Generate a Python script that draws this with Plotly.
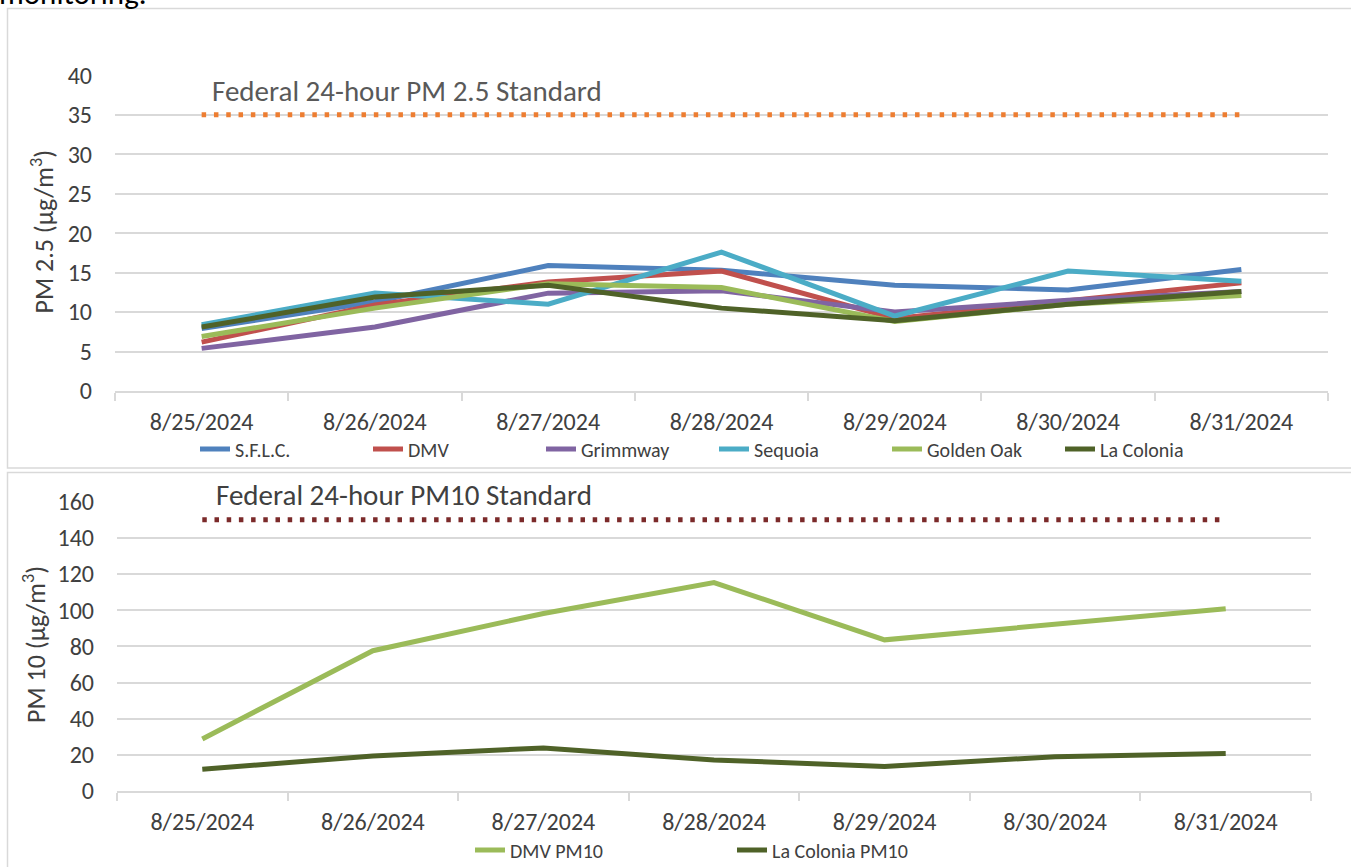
import plotly.graph_objects as go

W, H = 1351, 867

dates = ["8/25/2024", "8/26/2024", "8/27/2024", "8/28/2024", "8/29/2024", "8/30/2024", "8/31/2024"]

sflc = [7.9, 11.3, 15.9, 15.3, 13.4, 12.8, 15.4]
dmv = [6.2, 10.9, 13.8, 15.2, 9.2, 11.4, 13.7]
grimmway = [5.4, 8.1, 12.4, 12.7, 10.0, 11.5, 12.6]
sequoia = [8.4, 12.4, 11.0, 17.6, 9.5, 15.2, 13.9]
golden_oak = [6.9, 10.5, 13.6, 13.1, 8.8, 11.0, 12.1]
la_colonia = [8.1, 11.9, 13.4, 10.5, 8.9, 11.0, 12.6]
pm25_standard = [35, 35, 35, 35, 35, 35, 35]

dmv_pm10 = [28.8, 77.6, 98.2, 115.3, 83.6, 92.0, 100.8]
la_colonia_pm10 = [12.0, 19.4, 23.8, 17.2, 13.6, 19.0, 20.8]
pm10_standard = [150, 150, 150, 150, 150, 150, 150]

pm25_series = [
    ("S.F.L.C.", sflc, "#4F81BD"),
    ("DMV", dmv, "#C0504D"),
    ("Grimmway", grimmway, "#8064A2"),
    ("Sequoia", sequoia, "#4BACC6"),
    ("Golden Oak", golden_oak, "#9BBB59"),
    ("La Colonia", la_colonia, "#4F6228"),
]
pm10_series = [
    ("DMV PM10", dmv_pm10, "#9BBB59"),
    ("La Colonia PM10", la_colonia_pm10, "#4F6228"),
]

FONT = "Calibri, Carlito, Roboto, sans-serif"
TXT = "#404040"
GRID = "#d9d9d9"


def px_x(p):
    return p / W


def px_y(p):
    return 1 - p / H


fig = go.Figure()

fig.add_trace(go.Scatter(x=dates, y=pm25_standard, mode="lines", showlegend=False,
                         line=dict(color="#ED7D31", width=5, dash="4.5px,7.8px"),
                         xaxis="x", yaxis="y", hoverinfo="skip"))
for name, vals, col in pm25_series:
    fig.add_trace(go.Scatter(x=dates, y=vals, mode="lines", name=name,
                             line=dict(color=col, width=5), xaxis="x", yaxis="y",
                             legend="legend"))

fig.add_trace(go.Scatter(x=dates, y=pm10_standard, mode="lines", showlegend=False,
                         line=dict(color="#7B2A2A", width=5, dash="4.5px,7.7px"),
                         xaxis="x2", yaxis="y2", hoverinfo="skip"))
for name, vals, col in pm10_series:
    fig.add_trace(go.Scatter(x=dates, y=vals, mode="lines", name=name,
                             line=dict(color=col, width=5), xaxis="x2", yaxis="y2",
                             legend="legend2"))

xaxis_common = dict(type="category", showgrid=False, showline=True, linecolor=GRID, linewidth=1.5,
                    ticks="outside", tickson="boundaries", ticklen=8, tickcolor=GRID, tickwidth=1.5,
                    tickfont=dict(family=FONT, size=24, color=TXT), zeroline=False,
                    ticklabelstandoff=8, range=[-0.5, 6.5], automargin=False, fixedrange=True)
yaxis_common = dict(showgrid=True, gridcolor=GRID, gridwidth=1.5, zeroline=False, showline=False,
                    ticks="", tickfont=dict(family=FONT, size=24, color=TXT),
                    ticklabelstandoff=22, automargin=False, fixedrange=True)

fig.update_layout(
    width=W, height=H,
    margin=dict(l=0, r=0, t=0, b=0, autoexpand=False),
    paper_bgcolor="white", plot_bgcolor="white",
    xaxis=dict(domain=[px_x(115), px_x(1328)], anchor="y", **xaxis_common),
    yaxis=dict(domain=[px_y(391), px_y(75.3)], anchor="x", range=[0, 40], dtick=5, **yaxis_common),
    xaxis2=dict(domain=[px_x(117), px_x(1311)], anchor="y2", **xaxis_common),
    yaxis2=dict(domain=[px_y(791), px_y(501.7)], anchor="x2", range=[0, 160], dtick=20, **yaxis_common),
    legend=dict(orientation="h", x=px_x(195), xanchor="left", y=px_y(449), yanchor="middle",
                entrywidth=128, entrywidthmode="pixels",
                font=dict(family=FONT, size=20, color=TXT), bgcolor="rgba(0,0,0,0)"),
    legend2=dict(orientation="h", x=px_x(470), xanchor="left", y=px_y(850), yanchor="middle",
                 entrywidth=217, entrywidthmode="pixels",
                 font=dict(family=FONT, size=20, color=TXT), bgcolor="rgba(0,0,0,0)"),
    showlegend=True,
    shapes=[
        dict(type="rect", xref="paper", yref="paper", x0=px_x(7.5), x1=1.02, y0=px_y(468), y1=px_y(8.5),
             line=dict(color=GRID, width=1.5), fillcolor="rgba(0,0,0,0)", layer="below"),
        dict(type="rect", xref="paper", yref="paper", x0=px_x(7.5), x1=1.02, y0=-0.05, y1=px_y(472.5),
             line=dict(color=GRID, width=1.5), fillcolor="rgba(0,0,0,0)", layer="below"),
    ],
    annotations=[
        dict(text="monitoring.", x=px_x(-3), y=px_y(-7), xref="paper", yref="paper",
             xanchor="left", yanchor="middle", showarrow=False,
             font=dict(family=FONT, size=31, color="black")),
        dict(text="Federal 24-hour PM 2.5 Standard", x=px_x(210), y=px_y(91), xref="paper", yref="paper",
             xanchor="left", yanchor="middle", showarrow=False,
             font=dict(family=FONT, size=29, color="#595959")),
        dict(text="Federal 24-hour PM10 Standard", x=px_x(214), y=px_y(495), xref="paper", yref="paper",
             xanchor="left", yanchor="middle", showarrow=False,
             font=dict(family=FONT, size=29, color="#404040")),
        dict(text="PM 2.5 (µg/m<sup>3</sup>)", x=px_x(42.5), y=px_y(232), xref="paper", yref="paper",
             xanchor="center", yanchor="middle", textangle=-90, showarrow=False,
             font=dict(family=FONT, size=26, color=TXT)),
        dict(text="PM 10 (µg/m<sup>3</sup>)", x=px_x(34), y=px_y(645), xref="paper", yref="paper",
             xanchor="center", yanchor="middle", textangle=-90, showarrow=False,
             font=dict(family=FONT, size=26, color=TXT)),
    ],
    hovermode=False,
)

fig.write_html("out.html", config={"displayModeBar": False},
               post_script="document.body.style.margin='0';")
